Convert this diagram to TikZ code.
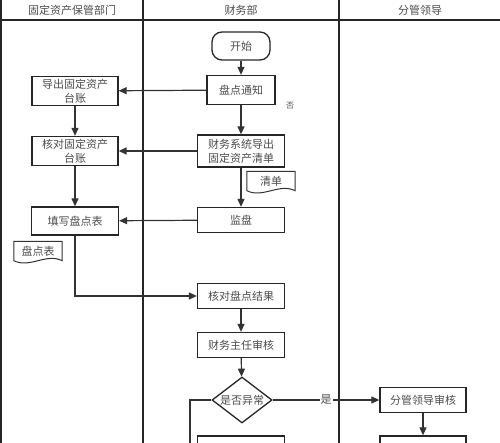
\documentclass[tikz,border=0pt]{standalone}
\usepackage{fontspec}
\setmainfont{Noto Sans CJK SC}
\usetikzlibrary{positioning,arrows.meta,shapes.geometric}

\tikzset{
  box/.style={draw=black!85, line width=1.3pt, minimum width=87pt, minimum height=25pt,
    inner sep=1pt, align=center, text=black!70},
  flow/.style={draw=black!80, line width=1.2pt, -{Triangle[length=8pt,width=7pt]}},
  lane/.style={draw=black!85, line width=1.1pt},
  docnode/.style={minimum width=48pt, minimum height=19pt, inner sep=0pt, text=black!70},
  doc/.style={draw=black!80, line width=1pt},
}

\begin{document}
\begin{tikzpicture}[x=1pt, y=-1pt, font=\fontsize{11}{14}\selectfont]
\useasboundingbox (0,0) rectangle (500,443);
\clip (0,0) rectangle (500,443);

% lanes
\draw[lane] (1,0) -- (1,443);
\draw[lane] (143,0) -- (143,443);
\draw[lane] (339,0) -- (339,443);
\draw[lane] (0,20) -- (500,20);
\node[text=black!70] (h1) at (72,10) {固定资产保管部门};
\node[text=black!70] (h2) at (241,10) {财务部};
\node[text=black!70] (h3) at (420,10) {分管领导};

% finance
\node[box, rounded corners=10pt, minimum width=58pt, minimum height=28pt] (start) at (241,46) {开始};
\node[box, minimum width=68pt, minimum height=29pt] (notice) at (241,90) {盘点通知};
\node[box, minimum height=32pt] (export) at (241,151) {财务系统导出\\固定资产清单};
\node[box] (watch) at (241,220) {监盘};
\node[box] (check) at (241,296) {核对盘点结果};
\node[box] (chief) at (241,345) {财务主任审核};
\node[box, shape=diamond, minimum width=60pt, minimum height=46pt, inner sep=0pt, aspect=1.3] (odd) at (242,400) {是否异常};
\node[box, minimum height=32pt] (fbot) at (241,452) {};
\node[docnode] (list) at (271,181) {清单};
\node[font=\fontsize{8}{10}\selectfont, text=black!70] (no) at (290,106) {否};

% custody
\node[box, minimum width=86pt, minimum height=29pt] (ledger) at (75,91) {导出固定资产\\台账};
\node[box, minimum width=86pt, minimum height=29pt] (verify) at (75,151) {核对固定资产\\台账};
\node[box, minimum width=87pt, minimum height=28pt] (fill) at (75,221) {填写盘点表};
\node[docnode] (sheet) at (38,251) {盘点表};

% leader
\node[box, minimum width=86pt] (lead) at (423,400) {分管领导审核};
\node[box, minimum width=86pt, minimum height=32pt] (lbot) at (423,452) {};

\foreach \d in {list, sheet}
  \draw[doc] (\d.south west) -- (\d.north west) -- (\d.north east) -- (\d.south east)
    .. controls +(-16pt,8pt) and +(16pt,-8pt) .. (\d.south west) -- cycle;

\path
  (start) edge[flow] (notice)
  (notice) edge[flow] (export)
  (export) edge[flow] (watch)
  (check) edge[flow] (chief)
  (chief) edge[flow] (odd)
  (notice) edge[flow] (ledger)
  (export) edge[flow] (verify)
  (watch) edge[flow] (fill)
  (ledger) edge[flow] (verify)
  (verify) edge[flow] (fill)
  (lead) edge[flow] (lbot)
  (odd) edge[flow] node[fill=white, inner sep=1pt, text=black!70] {是} (lead)
  ;
\draw[flow] (fill.south) |- (check.west);
\coordinate (back) at (190,400);
\coordinate (down) at (190,460);
\draw[flow, -] (odd.west) -- (back) -- (down);
\end{tikzpicture}
\end{document}
